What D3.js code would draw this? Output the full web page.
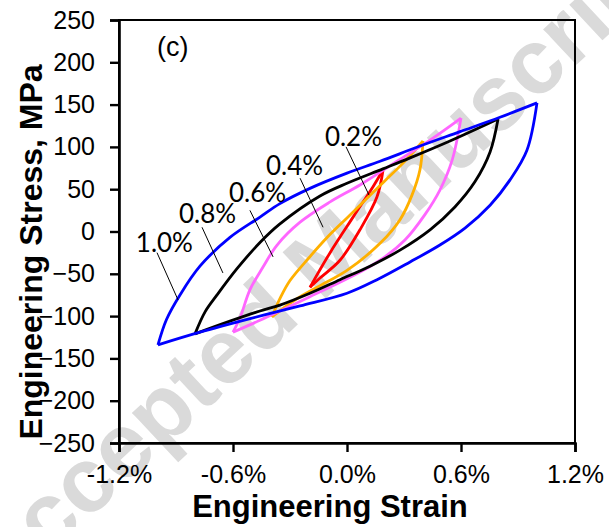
<!DOCTYPE html>
<html>
<head>
<meta charset="utf-8">
<script src="https://cdn.jsdelivr.net/npm/d3@7"></script>
<style>
body { margin: 0; background: #fff; }
</style>
</head>
<body>
<script>

// ---- data (strain in %, stress in MPa) ----
const xTicks = [-1.2, -0.6, 0.0, 0.6, 1.2];
const yTicks = [-250, -200, -150, -100, -50, 0, 50, 100, 150, 200, 250];

const amplitudes = ["0.2%", "0.4%", "0.6%", "0.8%", "1.0%"];
const loopColors = ["#ff0000", "#ffb000", "#ff66ff", "#000000", "#0000ff"];

const red_up = [[-0.195,-66],[-0.089,-25],[0.032,17],[0.137,53],[0.19,73]];
const red_lo = [[0.19,73],[0.158,41],[0.068,2],[-0.037,-34],[-0.142,-55],[-0.195,-66]];

const orange_up = [[-0.395,-101],[-0.35,-78],[-0.3,-58],[-0.2,-31],[-0.1,-6],[0,16],[0.1,38],[0.2,60],[0.3,82],[0.4,107]];
const orange_lo = [[0.4,107],[0.384,73],[0.342,43],[0.279,14],[0.174,-14],[0,-46],[-0.142,-64],[-0.274,-81],[-0.395,-101]];

const magenta_up = [[-0.6,-119],[-0.563,-102],[-0.511,-69],[-0.442,-42],[-0.368,-16],[-0.247,11],[-0.089,35],[0.068,55],[0.263,83],[0.437,108],[0.6,134]];
const magenta_lo = [[0.6,134],[0.553,84],[0.489,49],[0.41,20],[0.305,-10],[0.174,-34],[0,-56],[-0.195,-77],[-0.353,-94],[-0.458,-105],[-0.6,-119]];

const black_up = [[-0.8,-121],[-0.747,-95],[-0.684,-75],[-0.579,-44],[-0.458,-13],[-0.353,9],[-0.142,42],[0,57],[0.189,74],[0.332,87],[0.542,107],[0.795,133]];
const black_lo = [[0.795,133],[0.753,94],[0.674,59],[0.568,29],[0.437,2],[0.279,-22],[0.121,-41],[-0.037,-57],[-0.195,-73],[-0.353,-87],[-0.458,-94],[-0.616,-106],[-0.8,-121]];

const blue_up = [[-0.995,-134],[-0.95,-104],[-0.879,-75],[-0.774,-41],[-0.616,-7],[-0.458,17],[-0.353,33],[-0.195,51],[0,69],[0.174,83],[0.384,101],[0.595,118],[0.805,135],[1.0,152]];
const blue_lo = [[1.0,152],[0.947,96],[0.858,61],[0.753,31],[0.621,4],[0.489,-16],[0.332,-36],[0.158,-57],[0,-73],[-0.247,-88],[-0.51,-103],[-0.774,-119],[-0.995,-134]];

// label anchor (centre, baseline) and leader line ends, in data units
const labelPos = [[0.034,101],[-0.276,67],[-0.471,35],[-0.734,10],[-0.961,-24]];
const leaders = [
  [[-0.005,100],[0.116,43]],
  [[-0.247,63],[-0.126,5]],
  [[-0.511,25],[-0.389,-30]],
  [[-0.763,5],[-0.653,-49]],
  [[-1.0,-25],[-0.889,-81]]
];

let loops = [
  [red_up, red_lo], [orange_up, orange_lo], [magenta_up, magenta_lo],
  [black_up, black_lo], [blue_up, blue_lo]
];

// ---- layout ----
let W = 609, H = 527;
let margin = {top: 20, right: 34, bottom: 84, left: 119},
    width = W - margin.left - margin.right,
    height = H - margin.top - margin.bottom;

let x = d3.scaleLinear().domain([-1.2, 1.2]).range([0, width]),
    y = d3.scaleLinear().domain([-250, 250]).range([height, 0]);

let root = d3.select("body").append("svg")
    .attr("width", W)
    .attr("height", H);

// watermark (faint, behind the chart)
root.append("text")
    .attr("transform", "translate(318,262) rotate(-43)")
    .attr("text-anchor", "middle")
    .attr("dominant-baseline", "central")
    .attr("font-family", "Liberation Sans, Arial, sans-serif")
    .attr("font-weight", "bold")
    .attr("font-size", 92)
    .attr("fill", "#dadada")
    .text("Accepted Manuscript");

let svg = root.append("g")
    .attr("transform", "translate(" + margin.left + "," + margin.top + ")");

// frame
svg.append("rect")
    .attr("width", width).attr("height", height)
    .attr("fill", "none").attr("stroke", "#000").attr("stroke-width", 2);

let fmt = d => d.toFixed(1) + "%";

let gx = svg.append("g")
    .attr("transform", "translate(0," + height + ")")
    .call(d3.axisBottom(x).tickValues(xTicks).tickFormat(fmt).tickSize(9).tickPadding(13));

let gy = svg.append("g")
    .call(d3.axisLeft(y).tickValues(yTicks).tickSize(9).tickPadding(15));

[gx, gy].forEach(g => {
  g.select(".domain").attr("stroke-width", 2.6);
  g.selectAll(".tick line").attr("stroke-width", 2.4);
  g.selectAll(".tick text")
    .attr("font-family", "Liberation Sans, Arial, sans-serif")
    .attr("font-size", 25)
    .attr("fill", "#000");
});

// loops
let line = d3.line()
    .x(d => x(d[0]))
    .y(d => y(d[1]))
    .curve(d3.curveCatmullRom.alpha(0.5));

loops.forEach((lp, i) => {
  lp.forEach(branch => {
    svg.append("path")
      .attr("d", line(branch))
      .attr("fill", "none")
      .attr("stroke", loopColors[i])
      .attr("stroke-width", 2.8)
      .attr("stroke-linejoin", "round");
  });
});

// callouts
leaders.forEach(l => {
  svg.append("line")
    .attr("x1", x(l[0][0])).attr("y1", y(l[0][1]))
    .attr("x2", x(l[1][0])).attr("y2", y(l[1][1]))
    .attr("stroke", "#000").attr("stroke-width", 1);
});

svg.selectAll(".amp")
    .data(amplitudes)
    .enter().append("text")
    .attr("class", "amp")
    .attr("x", (d, i) => x(labelPos[i][0]))
    .attr("y", (d, i) => y(labelPos[i][1]))
    .attr("text-anchor", "middle")
    .attr("font-family", "Lato, sans-serif")
    .attr("font-size", 26)
    .text(d => d);

// panel label
svg.append("text")
    .attr("x", x(-1.0)).attr("y", y(208))
    .attr("font-family", "Liberation Sans, Arial, sans-serif")
    .attr("font-size", 27)
    .text("(c)");

// axis titles
root.append("text")
    .attr("x", 330).attr("y", 517)
    .attr("text-anchor", "middle")
    .attr("font-family", "Liberation Sans, Arial, sans-serif")
    .attr("font-weight", "bold")
    .attr("font-size", 31)
    .text("Engineering Strain");

root.append("text")
    .attr("transform", "translate(42,252) rotate(-90)")
    .attr("text-anchor", "middle")
    .attr("font-family", "Liberation Sans, Arial, sans-serif")
    .attr("font-weight", "bold")
    .attr("font-size", 32)
    .text("Engineering Stress, MPa");

</script>
</body>
</html>
